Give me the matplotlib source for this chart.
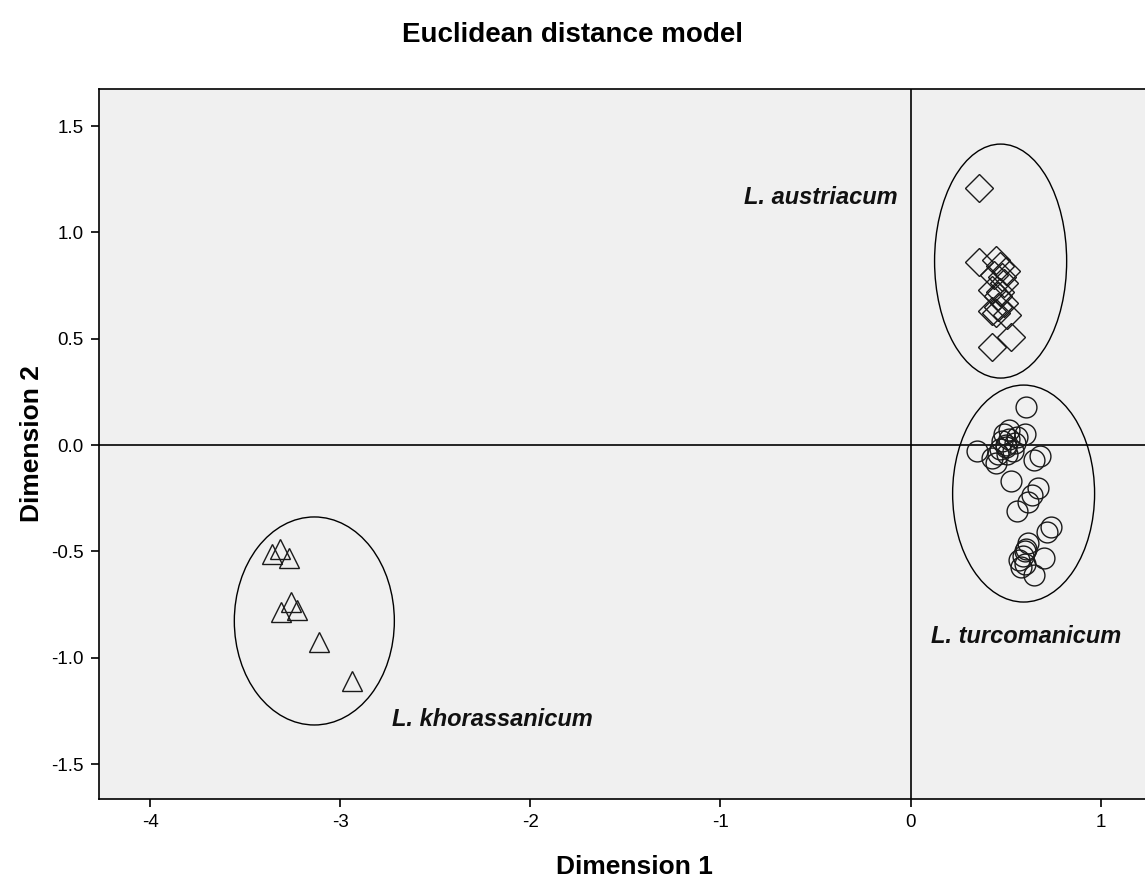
import matplotlib.pyplot as plt
from matplotlib.patches import Ellipse

plt.rcParams['font.family'] = ['Liberation Sans', 'DejaVu Sans']

# L. austriacum (diamonds)
aus_x = [0.36, 0.36, 0.45, 0.47, 0.48, 0.49, 0.43, 0.46, 0.43, 0.45, 0.51, 0.53, 0.43,
         0.50, 0.44, 0.47, 0.49, 0.46]
aus_y = [1.21, 0.86, 0.87, 0.84, 0.79, 0.76, 0.73, 0.70, 0.63, 0.62, 0.61, 0.51, 0.46,
         0.82, 0.80, 0.72, 0.67, 0.65]

# L. turcomanicum (circles)
tur_x = [0.61, 0.52, 0.35, 0.43, 0.45, 0.50, 0.56, 0.60, 0.65, 0.68, 0.53, 0.67, 0.64,
         0.62, 0.56, 0.74, 0.72, 0.62, 0.59, 0.70, 0.60, 0.58, 0.65, 0.48, 0.50, 0.52,
         0.47, 0.54, 0.49, 0.51, 0.46, 0.55, 0.60, 0.61, 0.57]
tur_y = [0.18, 0.07, -0.03, -0.06, -0.085, -0.01, 0.04, 0.05, -0.07, -0.05, -0.17, -0.20,
         -0.235, -0.27, -0.31, -0.385, -0.41, -0.46, -0.52, -0.53, -0.56, -0.575, -0.61,
         0.02, 0.00, 0.03, -0.02, -0.03, 0.05, -0.04, -0.04, 0.01, -0.50, -0.49, -0.54]

# L. khorassanicum (triangles)
kho_x = [-3.36, -3.32, -3.27, -3.26, -3.23, -3.31, -3.11, -2.94]
kho_y = [-0.51, -0.49, -0.53, -0.74, -0.775, -0.785, -0.925, -1.11]

# group ellipses: centre x, centre y, width, height
ell_x = [0.474, 0.595, -3.137]
ell_y = [0.865, -0.228, -0.827]
ell_w = [0.695, 0.747, 0.842]
ell_h = [1.10, 1.02, 0.978]

xticks = [-4, -3, -2, -1, 0, 1]
yticks = [-1.5, -1.0, -0.5, 0.0, 0.5, 1.0, 1.5]

fig = plt.figure(figsize=(11.45, 8.81), dpi=100)
ax = fig.add_axes([99 / 1145, 1 - 799 / 881, 1070 / 1145, 710 / 881])
ax.set_facecolor('#f0f0f0')

ax.axhline(0, color='black', lw=1.2, zorder=1)
ax.axvline(0, color='black', lw=1.2, zorder=1)

ax.plot(aus_x, aus_y, 'D', ms=14.3, mfc='none', mec='#1a1a1a', mew=1.0, zorder=3)
ax.plot(tur_x, tur_y, 'o', ms=15, mfc='none', mec='#1a1a1a', mew=1.0, zorder=3)
ax.plot(kho_x, kho_y, '^', ms=15, mfc='none', mec='#1a1a1a', mew=1.0, zorder=3)

for cx, cy, w, h in zip(ell_x, ell_y, ell_w, ell_h):
    ax.add_patch(Ellipse((cx, cy), w, h, fill=False, ec='black', lw=1.0, zorder=2))

lab = dict(fontsize=17, fontweight='bold', style='italic', color='#111111')
ax.text(-0.47, 1.166, 'L. austriacum', ha='center', va='center', **lab)
ax.text(0.61, -0.90, 'L. turcomanicum', ha='center', va='center', **lab)
ax.text(-2.2, -1.29, 'L. khorassanicum', ha='center', va='center', **lab)

ax.set_xlim(-4.27, 1.36)
ax.set_ylim(-1.664, 1.674)
ax.set_xticks(xticks)
ax.set_xticklabels([str(t) for t in xticks])
ax.set_yticks(yticks)
ax.set_yticklabels(['%.1f' % t for t in yticks])
ax.tick_params(direction='out', length=6, width=1.2, labelsize=13.5, colors='black', pad=5)
for s in ax.spines.values():
    s.set_linewidth(1.2)

ax.set_xlabel('Dimension 1', fontsize=19, fontweight='bold', labelpad=17)
ax.set_ylabel('Dimension 2', fontsize=19, fontweight='bold', labelpad=5)
fig.text(572 / 1145, 1 - 35 / 881, 'Euclidean distance model', ha='center', va='center',
         fontsize=20, fontweight='bold')

fig.savefig('out.png', dpi=100)
